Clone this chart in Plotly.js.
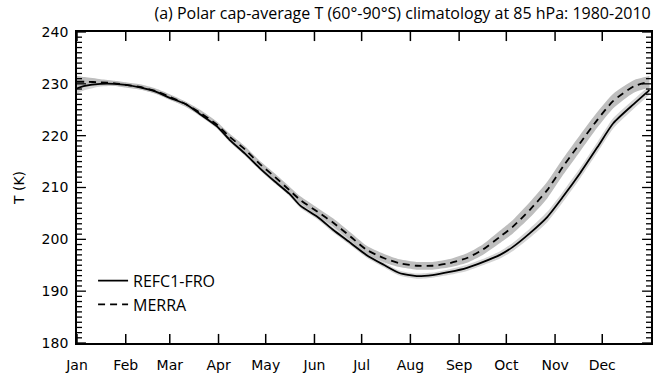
<!DOCTYPE html>
<html>
<head>
<meta charset="utf-8">
<script src="https://cdn.plot.ly/plotly-3.0.1.min.js"></script>
<style>
  html, body { margin: 0; padding: 0; background: #fff; }
  #chart { width: 671px; height: 375px; }
</style>
</head>
<body>
<div id="chart"></div>
<script>
// Day of year for each sample of the climatology
const days = [0, 5, 15, 24, 31, 40, 50, 59, 69, 78, 89, 97, 107, 116, 126, 135, 142, 153, 163, 174,
              184, 195, 205, 216, 226, 237, 248, 258, 269, 277, 288, 299, 309, 320, 331, 341, 354, 364];

// Polar cap (60-90S) mean temperature at 85 hPa, K
const refc1 = [229.1, 229.6, 230.0, 230.0, 229.8, 229.3, 228.5, 227.3, 226.1, 224.2, 221.8, 219.2, 216.5,
               213.8, 211.1, 208.8, 206.5, 204.3, 201.8, 199.3, 197.0, 195.1, 193.5, 192.9, 193.1, 193.7,
               194.5, 195.6, 197.0, 198.5, 201.2, 204.3, 208.2, 212.8, 217.8, 222.4, 226.1, 228.8];
const merra = [230.4, 230.4, 230.3, 230.1, 229.8, 229.4, 228.6, 227.5, 226.1, 224.5, 222.1, 219.8, 217.3,
               214.6, 212.0, 209.5, 207.6, 205.3, 203.2, 200.5, 198.0, 196.4, 195.4, 194.9, 194.9, 195.4,
               196.4, 198.0, 200.5, 202.4, 205.7, 209.5, 214.0, 218.6, 223.1, 226.7, 229.5, 230.4];

// Half-width of the shaded spread around each climatology, K
const refc1Spread = [1.0, 0.8, 0.5, 0.4, 0.4, 0.4, 0.4, 0.4, 0.4, 0.4, 0.4, 0.4, 0.4, 0.4, 0.4, 0.45, 0.45, 0.45, 0.5,
                     0.5, 0.5, 0.5, 0.5, 0.5, 0.5, 0.55, 0.6, 0.6, 0.7, 0.8, 0.9, 1.0, 1.0, 1.0, 1.0, 1.0, 0.9, 0.9];
const merraSpread = [1.1, 0.9, 0.6, 0.5, 0.5, 0.5, 0.5, 0.5, 0.5, 0.55, 0.6, 0.6, 0.6, 0.6, 0.65, 0.7, 0.7, 0.75, 0.8,
                     0.8, 0.8, 0.8, 0.75, 0.75, 0.75, 0.8, 0.9, 1.0, 1.2, 1.3, 1.5, 1.6, 1.6, 1.6, 1.5, 1.4, 1.2, 1.1];

// Month axis
const monthStarts = [0, 31, 59, 90, 120, 151, 181, 212, 243, 273, 304, 334];
const monthLabels = ['Jan', 'Feb', 'Mar', 'Apr', 'May', 'Jun', 'Jul', 'Aug', 'Sep', 'Oct', 'Nov', 'Dec'];

// Temperature axis
const tempTicks = [180, 190, 200, 210, 220, 230, 240];

const seriesNames = ['REFC1-FRO', 'MERRA'];

const dayRange = [0, 365];
const tempRange = [180, 240];

function band(values, spread, color) {
  const lower = values.map((v, i) => v - spread[i]);
  const upper = values.map((v, i) => v + spread[i]);
  return [
    { x: days, y: lower, mode: 'lines', line: { width: 0, shape: 'spline', smoothing: 0.6 },
      showlegend: false, hoverinfo: 'skip' },
    { x: days, y: upper, mode: 'lines', line: { width: 0, shape: 'spline', smoothing: 0.6 },
      fill: 'tonexty', fillcolor: color, showlegend: false, hoverinfo: 'skip' }
  ];
}

const traces = [
  ...band(refc1, refc1Spread, '#d4d4d4'),
  ...band(merra, merraSpread, '#bebebe'),
  { x: days, y: refc1, name: seriesNames[0], mode: 'lines',
    line: { color: '#000', width: 1.8, shape: 'spline', smoothing: 0.6 } },
  { x: days, y: merra, name: seriesNames[1], mode: 'lines',
    line: { color: '#000', width: 1.8, dash: '7px,5px', shape: 'spline', smoothing: 0.6 } }
];

// Inward tick marks on all four sides of the frame.
// Lengths are expressed in axis units: about 9 px (major) and 5 px (minor).
const majorDays = 5.7, minorDays = 3.2, majorK = 1.75;
const tickLine = (w) => ({ color: '#000', width: w });
const frameTicks = [];
monthStarts.forEach(d => {
  frameTicks.push({ type: 'line', layer: 'above', xref: 'x', yref: 'y',
                    x0: d, x1: d, y0: tempRange[0], y1: tempRange[0] + majorK, line: tickLine(1.5) });
  frameTicks.push({ type: 'line', layer: 'above', xref: 'x', yref: 'y',
                    x0: d, x1: d, y0: tempRange[1], y1: tempRange[1] - majorK, line: tickLine(1.5) });
});
for (let t = tempRange[0]; t <= tempRange[1]; t += 1) {
  const len = tempTicks.includes(t) ? majorDays : minorDays;
  frameTicks.push({ type: 'line', layer: 'above', xref: 'x', yref: 'y',
                    x0: dayRange[0], x1: dayRange[0] + len, y0: t, y1: t, line: tickLine(1.3) });
  frameTicks.push({ type: 'line', layer: 'above', xref: 'x', yref: 'y',
                    x0: dayRange[1], x1: dayRange[1] - len, y0: t, y1: t, line: tickLine(1.3) });
}

const tickFont = { family: 'DejaVu Sans', size: 14, color: '#000' };

const layout = {
  width: 671,
  height: 375,
  margin: { l: 77, r: 20, t: 32, b: 32 },
  paper_bgcolor: '#fff',
  plot_bgcolor: '#fff',
  title: {
    text: '(a) Polar cap-average T (60°-90°S) climatology at 85 hPa: 1980-2010',
    font: { family: 'Open Sans', size: 16, color: '#000' },
    xref: 'container', x: 0.6, xanchor: 'center',
    yref: 'container', y: 0.963, yanchor: 'middle'
  },
  xaxis: {
    range: dayRange,
    tickmode: 'array', tickvals: monthStarts, ticktext: monthLabels,
    ticks: '', ticklabelstandoff: 8,
    showline: true, linecolor: '#000', linewidth: 1.8, mirror: true,
    showgrid: false, zeroline: false,
    tickfont: tickFont
  },
  yaxis: {
    range: tempRange,
    tickmode: 'array', tickvals: tempTicks,
    ticks: '', ticklabelstandoff: 4,
    showline: true, linecolor: '#000', linewidth: 1.8, mirror: true,
    showgrid: false, zeroline: false,
    tickfont: tickFont,
    title: { text: 'T (K)', font: { family: 'DejaVu Sans', size: 14, color: '#000' }, standoff: 14 }
  },
  shapes: frameTicks,
  showlegend: true,
  legend: {
    x: 0.028, xanchor: 'left',
    y: 0.255, yanchor: 'top',
    traceorder: 'normal',
    bgcolor: 'rgba(0,0,0,0)',
    font: { family: 'Open Sans', size: 16, color: '#000' },
    itemwidth: 30,
    tracegroupgap: 0
  }
};

Plotly.newPlot('chart', traces, layout, { displayModeBar: false });
</script>
</body>
</html>
